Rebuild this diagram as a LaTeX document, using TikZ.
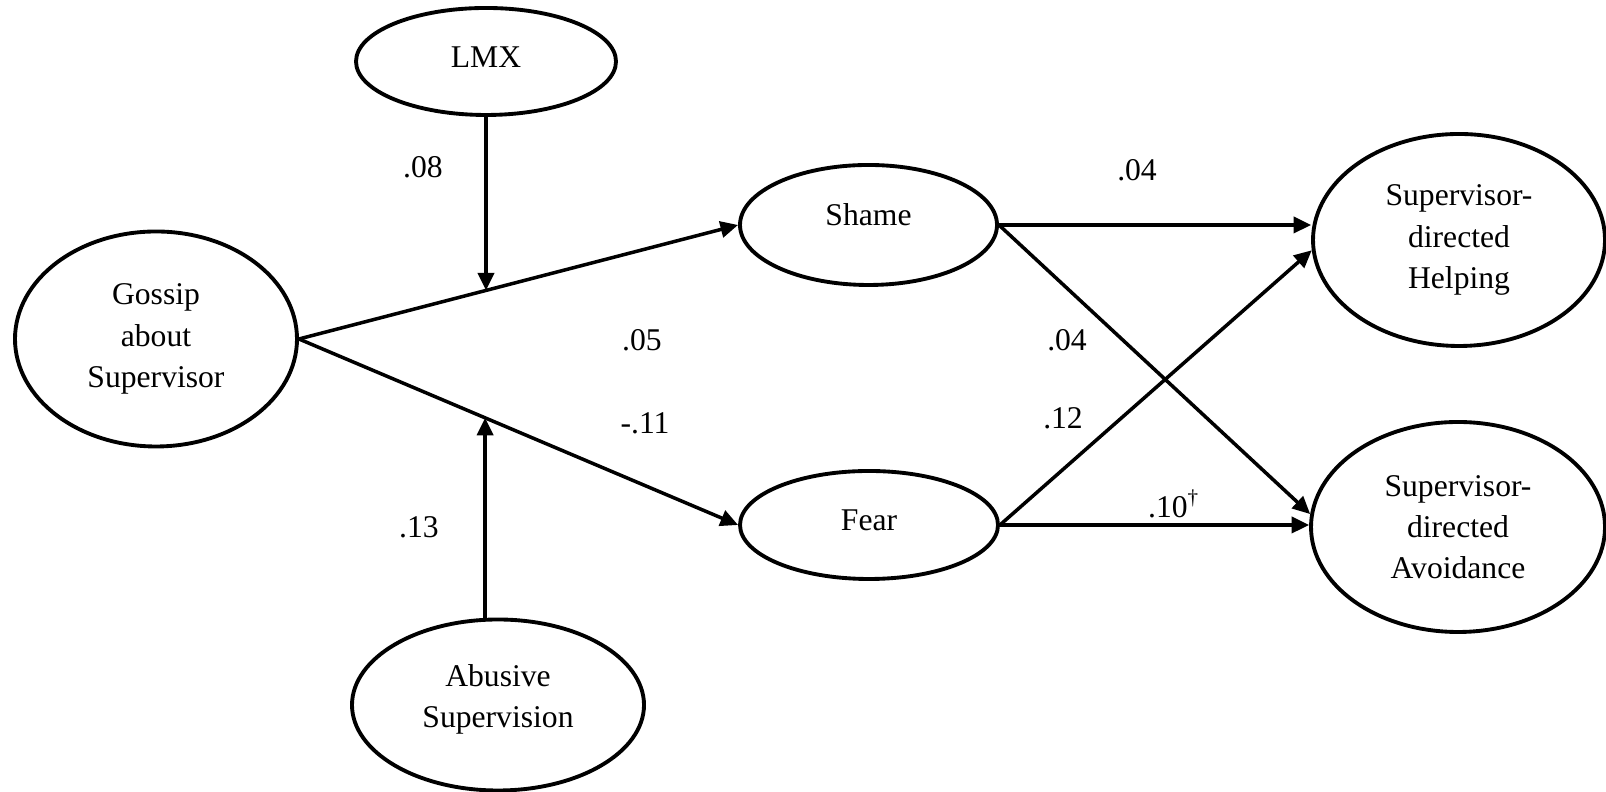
\documentclass[tikz,border=0pt]{standalone}
\usepackage{fontspec}
\setmainfont{Liberation Serif}
\usetikzlibrary{arrows.meta,shapes.geometric}

% raise the text of a node without changing its box
\newcommand{\lift}[2]{\raisebox{#1}[\height][\depth]{#2}}

\tikzset{
  var/.style={ellipse,draw,line width=1.1pt,inner sep=0pt,align=center},
  effect/.style={-{Triangle[length=5pt,width=4.6pt]},line width=1pt}
}

\begin{document}
\begin{tikzpicture}[font=\fontsize{9}{11.7}\selectfont]
            \useasboundingbox (0,0) rectangle (16.06,7.92);

            % latent variables
            \node[var,minimum width=2.82cm,minimum height=2.15cm] (gossip) at (1.56,4.53) {Gossip\\about\\Supervisor};
            \node[var,minimum width=2.60cm,minimum height=1.07cm] (lmx) at (4.86,7.305) {\lift{1.3pt}{LMX}};
            \node[var,minimum width=2.92cm,minimum height=1.71cm] (abusive) at (4.98,0.87) {\lift{1.6pt}{Abusive}\\\lift{1.6pt}{Supervision}};
            \node[var,minimum width=2.57cm,minimum height=1.20cm] (shame) at (8.685,5.67) {\lift{2.8pt}{Shame}};
            \node[var,minimum width=2.58cm,minimum height=1.08cm] (fear) at (8.69,2.67) {\lift{1.4pt}{Fear}};
            \node[var,minimum width=2.92cm,minimum height=2.12cm] (helping) at (14.59,5.52) {Supervisor-\\directed\\Helping};
            \node[var,minimum width=2.94cm,minimum height=2.10cm] (avoid) at (14.58,2.65) {Supervisor-\\directed\\Avoidance};

            % paths
            \draw[effect] (gossip.east) -- coordinate[pos=0.426] (m1) (shame.west);
            \draw[effect] (gossip.east) -- coordinate[pos=0.424] (m2) (fear.west);
            \draw[effect] (m1 |- lmx.south) -- (m1);
            \draw[effect] (m2 |- abusive.north) -- (m2);
            \draw[effect] (shame.east) -- (shame.east -| helping.west);
            \draw[effect] (shame.east) -- (avoid.175);
            \draw[effect] (fear.east) -- (helping.184);
            \draw[effect] (fear.east) -- (fear.east -| avoid.west);

            % coefficients
            \node (c08) at (4.23,6.25) {.08};
            \node (c05) at (6.42,4.52) {.05};
            \node (c11) at (6.45,3.69) {-.11};
            \node (c13) at (4.19,2.65) {.13};
            \node (c04a) at (11.37,6.22) {.04};
            \node (c04b) at (10.67,4.52) {.04};
            \node (c12) at (10.63,3.74) {.12};
            \node (c10) at (11.74,2.88) {.10\textsuperscript{\dag}};
\end{tikzpicture}
\end{document}
